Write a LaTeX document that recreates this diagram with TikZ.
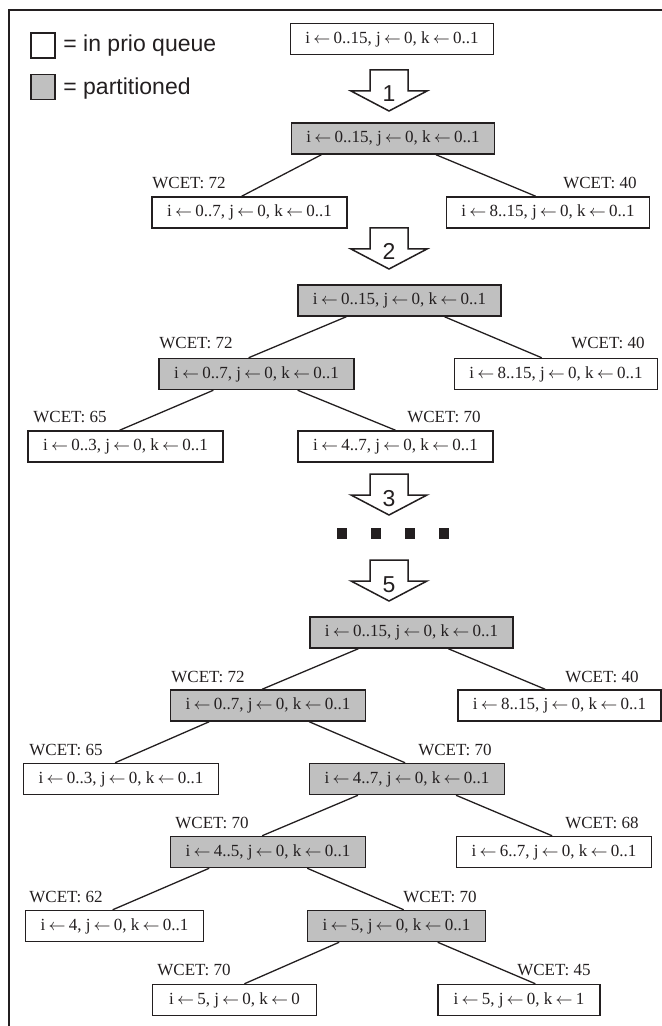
\documentclass[tikz,border=0pt]{standalone}
\usepackage{fontspec}
\setmainfont{Liberation Serif}
\setsansfont{Liberation Sans}
\usetikzlibrary{calc}

\definecolor{partfill}{RGB}{192,192,192}
\definecolor{ink}{RGB}{35,31,32}
\newcommand{\asg}{\kern1.6pt$\leftarrow$\kern1.6pt}

\begin{document}
\begin{tikzpicture}[x=0.5pt, y=-0.5pt, ink,
    qbox/.style={draw, line width=0.75pt, fill=white, inner xsep=7.5pt, inner ysep=0pt,
                 minimum height=15.5pt, font=\fontsize{8.5}{10}\selectfont},
    pbox/.style={qbox, fill=partfill},
    wl/.style={anchor=base west, inner sep=0pt, font=\fontsize{8.5}{10}\selectfont},
    wr/.style={wl, anchor=base east},
    key/.style={draw, line width=0.75pt, minimum width=12pt, minimum height=12.5pt, inner sep=0pt},
    keytext/.style={anchor=base west, inner sep=0pt, font=\sffamily\fontsize{11.5}{13}\selectfont},
    blockarrow/.style={draw, fill=white, line width=0.75pt},
    stepnum/.style={anchor=base, inner sep=0pt, font=\sffamily\fontsize{11.5}{13}\selectfont},
    branch/.style={line width=0.65pt}]
	\useasboundingbox (0,0) rectangle (662,1026);
	\draw[line width=1pt] (9,1100) |- (700,10);

	% legend
	\node[key] (keyq) at (43,45.5) {};
	\node[key, fill=partfill] (keyp) at (43,87) {};
	\node[keytext] (keyqt) at (63,52) {= in prio queue};
	\node[keytext] (keypt) at (63,95) {= partitioned};

	% step 1
	\node[qbox] (a0) at (392,39) {i\asg0..15, j\asg0, k\asg0..1};
	\node[pbox] (a1) at (393,138.5) {i\asg0..15, j\asg0, k\asg0..1};
	\node[qbox] (a2) at (249.5,212.5) {i\asg0..7, j\asg0, k\asg0..1};
	\node[qbox] (a3) at (548,212.5) {i\asg8..15, j\asg0, k\asg0..1};
	\node[wl] (wa2) at (152,188.5) {WCET: 72};
	\node[wr] (wa3) at (637,188.5) {WCET: 40};

	% step 2
	\node[pbox] (b1) at (399.5,300.5) {i\asg0..15, j\asg0, k\asg0..1};
	\node[pbox] (b2) at (256.5,374) {i\asg0..7, j\asg0, k\asg0..1};
	\node[qbox] (b3) at (556,374) {i\asg8..15, j\asg0, k\asg0..1};
	\node[qbox] (b4) at (125.5,446.5) {i\asg0..3, j\asg0, k\asg0..1};
	\node[qbox] (b5) at (395.5,446.5) {i\asg4..7, j\asg0, k\asg0..1};
	\node[wl] (wb2) at (159,348.5) {WCET: 72};
	\node[wr] (wb3) at (645,348.5) {WCET: 40};
	\node[wl] (wb4) at (33,422.5) {WCET: 65};
	\node[wr] (wb5) at (481,422.5) {WCET: 70};

	% step 5
	\node[pbox] (c1) at (411.5,632.5) {i\asg0..15, j\asg0, k\asg0..1};
	\node[pbox] (c2) at (268,705.5) {i\asg0..7, j\asg0, k\asg0..1};
	\node[qbox] (c3) at (559.5,705.5) {i\asg8..15, j\asg0, k\asg0..1};
	\node[qbox] (c4) at (121,779) {i\asg0..3, j\asg0, k\asg0..1};
	\node[pbox] (c5) at (407,779) {i\asg4..7, j\asg0, k\asg0..1};
	\node[pbox] (c6) at (268,852) {i\asg4..5, j\asg0, k\asg0..1};
	\node[qbox] (c7) at (554,852) {i\asg6..7, j\asg0, k\asg0..1};
	\node[qbox] (c8) at (114.5,926) {i\asg4, j\asg0, k\asg0..1};
	\node[pbox] (c9) at (396.5,926) {i\asg5, j\asg0, k\asg0..1};
	\node[qbox, minimum width=82pt] (c10) at (234.5,1000) {i\asg5, j\asg0, k\asg0};
	\node[qbox, minimum width=81pt] (c11) at (519,1000) {i\asg5, j\asg0, k\asg1};
	\node[wl] (wc2) at (171,682.5) {WCET: 72};
	\node[wr] (wc3) at (639,682.5) {WCET: 40};
	\node[wl] (wc4) at (29,755.5) {WCET: 65};
	\node[wr] (wc5) at (492,755.5) {WCET: 70};
	\node[wl] (wc6) at (175,828.5) {WCET: 70};
	\node[wr] (wc7) at (639,828.5) {WCET: 68};
	\node[wl] (wc8) at (29,902.5) {WCET: 62};
	\node[wr] (wc9) at (477,902.5) {WCET: 70};
	\node[wl] (wc10) at (157,975.5) {WCET: 70};
	\node[wr] (wc11) at (591,975.5) {WCET: 45};

	% splits
	\foreach \p/\c/\s/\e in {a1/a2/.15/.46, a1/a3/.71/.44,
	    b1/b2/.24/.46, b1/b3/.72/.43, b2/b4/.28/.47, b2/b5/.71/.5,
	    c1/c2/.24/.47, c1/c3/.68/.43, c2/c4/.2/.47, c2/c5/.71/.49,
	    c5/c6/.25/.47, c5/c7/.75/.49, c6/c8/.2/.49, c6/c9/.7/.54,
	    c9/c10/.18/.56, c9/c11/.73/.6}
	  \draw[branch] ($(\p.south west)!\s!(\p.south east)$) -- ($(\c.north west)!\e!(\c.north east)$);

	% step arrows
	\foreach \n/\y in {1/70, 2/228, 3/474, 5/560} {
	  \draw[blockarrow] (370,\y) -- (408,\y) -- (408,\y+21) -- (427,\y+21)
	    -- (389,\y+41) -- (351,\y+21) -- (370,\y+21) -- cycle;
	  \node[stepnum] (arrow\n) at (389,\y+32) {\n};
	}

	% skipped steps
	\foreach \i in {0,...,3}
	  \fill (337+34*\i,528) rectangle ++(10,11);
\end{tikzpicture}
\end{document}
